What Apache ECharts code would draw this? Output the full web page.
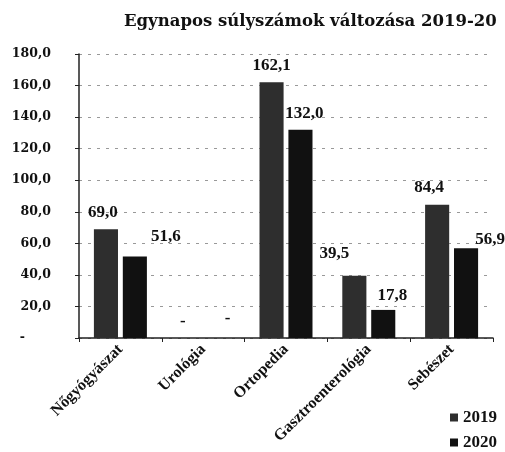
<!DOCTYPE html>
<html><head><meta charset="utf-8">
<script src="https://cdn.jsdelivr.net/npm/echarts@6/dist/echarts.min.js"></script>
<style>html,body{margin:0;padding:0;background:#fff}#c{width:505px;height:452px}</style>
</head><body><div id="c"></div>
<script>
const categories = ['Nőgyógyászat', 'Urológia', 'Ortopedia', 'Gasztroenterológia', 'Sebészet'];
const seriesNames = ['2019', '2020'];
const values2019 = [69.0, 0, 162.1, 39.5, 84.4];
const values2020 = [51.6, 0, 132.0, 17.8, 56.9];
const yTicks = [0, 20, 40, 60, 80, 100, 120, 140, 160, 180];

const fmt = v => v === 0 ? '-' : v.toFixed(1).replace('.', ',');
// label displacement as in the scanned original
const off2019 = [[-3, 0], [-6, 0], [0, 0], [-20, -6], [-8, -1]];
const off2020 = [[31, -3], [10, -3], [4, 0], [9, 2], [24, 8]];
const lblFont = {fontFamily: 'Liberation Serif', fontWeight: 'bold', fontSize: 17, color: '#111'};

function mk(vals, offs) {
  return vals.map((v, i) => ({value: v, label: {offset: offs[i]}}));
}

const chart = echarts.init(document.getElementById('c'), null, {renderer: 'canvas'});
chart.setOption({
  animation: false,
  backgroundColor: '#fff',
  title: {
    text: 'Egynapos súlyszámok változása 2019-20',
    left: 119, top: 8,
    textStyle: {fontFamily: 'DejaVu Serif', fontWeight: 'bold', fontSize: 16.5, color: '#111'}
  },
  legend: {
    orient: 'vertical', left: 450, bottom: 1, padding: 0, itemWidth: 8, itemHeight: 8, itemGap: 8,
    icon: 'rect',
    textStyle: {fontFamily: 'Liberation Serif', fontWeight: 'bold', fontSize: 17, color: '#111'},
    data: seriesNames
  },
  grid: {left: 79, right: 12, top: 54, bottom: 114},
  xAxis: {
    type: 'category', data: categories,
    axisLine: {lineStyle: {color: '#222', width: 1.5}},
    axisTick: {show: true, length: 4, lineStyle: {color: '#222'}},
    axisLabel: {rotate: 45, margin: 9, fontFamily: 'Liberation Serif', fontWeight: 'bold', fontSize: 16, color: '#111'}
  },
  yAxis: {
    type: 'value', min: 0, max: 180, interval: 20,
    axisLine: {show: true, lineStyle: {color: '#222', width: 1.5}},
    axisTick: {show: true, length: 4, lineStyle: {color: '#222'}},
    splitLine: {lineStyle: {color: '#999', type: [3, 6]}},
    axisLabel: {margin: 28, formatter: v => v === 0 ? '-      ' : fmt(v), fontFamily: 'DejaVu Serif', fontWeight: 'bold', fontSize: 12.5, color: '#111'}
  },
  series: [
    {name: seriesNames[0], type: 'bar', data: mk(values2019, off2019), barGap: '20%', barCategoryGap: '36%',
     itemStyle: {color: '#2e2e2e'},
     label: Object.assign({show: true, position: 'top', distance: 8, formatter: p => fmt(p.value)}, lblFont)},
    {name: seriesNames[1], type: 'bar', data: mk(values2020, off2020),
     itemStyle: {color: '#111'},
     label: Object.assign({show: true, position: 'top', distance: 8, formatter: p => fmt(p.value)}, lblFont)}
  ]
});
</script></body></html>
